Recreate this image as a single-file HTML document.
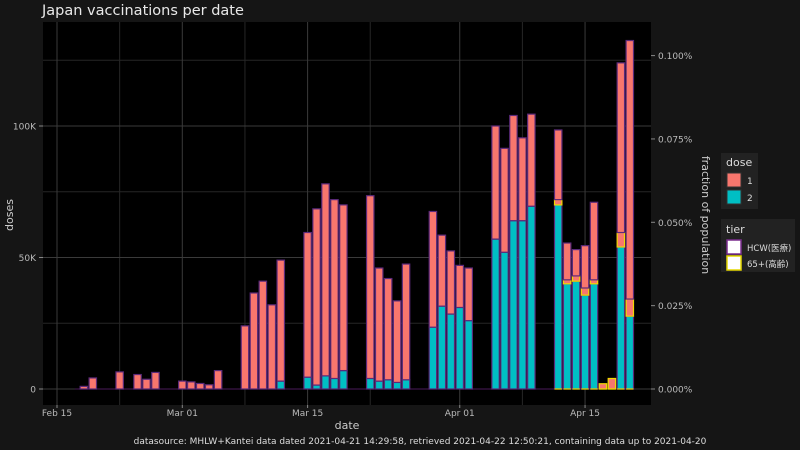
<!DOCTYPE html>
<html><head><meta charset="utf-8"><style>
html,body{margin:0;padding:0;background:#151515;}
svg{display:block;font-family:"DejaVu Sans","Noto Sans CJK JP",sans-serif;}
</style></head><body>
<svg id="chart" width="800" height="450" viewBox="0 0 800 450">
<rect x="0" y="0" width="800" height="450" fill="#151515"/>
<text x="42" y="15" fill="#e8e8e8" font-size="14.5">Japan vaccinations per date</text>
<rect x="43" y="22" width="608" height="383" fill="#000"/>
<g id="grid"></g>
<g id="bars"></g>
<g id="axes"></g>
<text x="347" y="429" fill="#ccc" font-size="11" text-anchor="middle">date</text>
<text transform="translate(13,215) rotate(-90)" fill="#ccc" font-size="11" text-anchor="middle">doses</text>
<text transform="translate(702,215) rotate(90)" fill="#ccc" font-size="11" text-anchor="middle">fraction of population</text>
<g>
<rect x="721" y="153" width="37" height="56" fill="#222"/>
<text x="726" y="166" fill="#ddd" font-size="11">dose</text>
<rect x="727" y="173" width="14" height="14" fill="#F8766D" stroke="#333"/>
<text x="747" y="184" fill="#ddd" font-size="9">1</text>
<rect x="727" y="190" width="14" height="14" fill="#00BFC4" stroke="#333"/>
<text x="747" y="201" fill="#ddd" font-size="9">2</text>
</g>
<g>
<rect x="721" y="219" width="74" height="53" fill="#222"/>
<text x="726" y="233" fill="#ddd" font-size="11">tier</text>
<rect x="727" y="240" width="14" height="14" fill="#fff" stroke="#7b2d8e" stroke-width="1.5"/>
<text x="747" y="251" fill="#ddd" font-size="8.5">HCW(医療)</text>
<rect x="727" y="256" width="14" height="14" fill="#fff" stroke="#e6d800" stroke-width="1.5"/>
<text x="747" y="267" fill="#ddd" font-size="8.5">65+(高齢)</text>
</g>
<text x="420" y="444" fill="#ddd" font-size="9" text-anchor="middle">datasource: MHLW+Kantei data dated 2021-04-21 14:29:58, retrieved 2021-04-22 12:50:21, containing data up to 2021-04-20</text>
</svg>
<script>
// day offsets from Feb 15
const days = [3,4,7,9,10,11,14,15,16,17,18,21,22,23,24,25,28,29,30,31,32,35,36,37,38,39,42,43,44,45,46,49,50,51,52,53,56,57,58,59,60,61,62,63,64];
// HCW dose 2 (K)
const hcwDose2 = [0,0,0,0,0,0,0,0,0,0,0,0,0,0,0,3,4.5,1.5,5,4,7,4,3,3.5,2.5,3.5,23.5,31.5,28.5,31,26,57,52,64,64,69.5,70,40,41,35.7,40,0,0,54,27.7];
// 65+ dose 1 (K)
const oldDose1 = [0,0,0,0,0,0,0,0,0,0,0,0,0,0,0,0,0,0,0,0,0,0,0,0,0,0,0,0,0,0,0,0,0,0,0,0,2,1.5,2,2.7,1.5,2,4,5.5,6.5];
// HCW dose 1 (K)
const hcwDose1 = [1,4.2,6.5,5.5,3.7,6.3,3,2.7,2.1,1.6,7,24,36.5,41,32,46,55,67,73,68,63,69.5,43,38.5,31,44,44,27,24,16,20,43,39.5,40,31.5,35,26.5,14,10,16.1,29.5,0,0,64.5,98.3];
const yTicks = [0,50,100];
const yTickLabels = ["0","50K","100K"];
const pctTicks = [0,0.025,0.05,0.075,0.1];
const pctTickLabels = ["0.000%","0.025%","0.050%","0.075%","0.100%"];
const xTickDays = [0,14,28,45,59];
const xTickLabels = ["Feb 15","Mar 01","Mar 15","Apr 01","Apr 15"];

const ns="http://www.w3.org/2000/svg";
const x = d => 57 + d*8.95;
const y = v => 389 - v*2.63;
const yp = p => 389 - p*3334;
const PB = 405;
function mk(tag, attrs, parent){const e=document.createElementNS(ns,tag);for(const k in attrs)e.setAttribute(k,attrs[k]);parent.appendChild(e);return e;}
const grid=document.getElementById('grid'), bars=document.getElementById('bars'), axes=document.getElementById('axes');
[25,75,125].forEach(v=>{const l=mk('line',{x1:43,x2:651,y1:y(v),y2:y(v),stroke:'#262626','stroke-width':1},grid);

});
[7,21,35,52].forEach(d=>{const l=mk('line',{x1:x(d),x2:x(d),y1:22,y2:PB,stroke:'#262626','stroke-width':1},grid);

});
yTicks.forEach((v,i)=>{const l=mk('line',{x1:43,x2:651,y1:y(v),y2:y(v),stroke:'#3a3a3a','stroke-width':1},grid);


const t=mk('text',{x:36,y:y(v)+3.5,fill:'#bbb','font-size':9,'text-anchor':'end'},axes);t.textContent=yTickLabels[i];


mk('line',{x1:39,x2:43,y1:y(v),y2:y(v),stroke:'#888'},axes);});
xTickDays.forEach((d,i)=>{const l=mk('line',{x1:x(d),x2:x(d),y1:22,y2:PB,stroke:'#3a3a3a','stroke-width':1},grid);


mk('line',{x1:x(d),x2:x(d),y1:PB,y2:PB+3,stroke:'#888'},axes);
const t=mk('text',{x:x(d),y:416,fill:'#bbb','font-size':9,'text-anchor':'middle'},axes);t.textContent=xTickLabels[i];

});
pctTicks.forEach((p,i)=>{mk('line',{x1:651,x2:655,y1:yp(p),y2:yp(p),stroke:'#888'},axes);
const t=mk('text',{x:658,y:yp(p)+3.5,fill:'#bbb','font-size':9},axes);t.textContent=pctTickLabels[i];

});
mk('line',{x1:x(2),x2:x(64.5),y1:389,y2:389,stroke:'#4a1a5a','stroke-width':1},bars);
const bw=7.4;
days.forEach((d,i)=>{
  let base=0;
  const segs=[[hcwDose2[i],'#00BFC4','#5b2a7a','bar-dose2-hcw'],[oldDose1[i],'#F8766D','#f0d800','bar-dose1-65plus'],[hcwDose1[i],'#F8766D','#5b2a7a','bar-dose1-hcw']];
  segs.forEach(s=>{
    if(s[0]<=0) return;
    const r=mk('rect',{x:x(d)-bw/2,y:y(base+s[0]),width:bw,height:s[0]*2.63,fill:s[1],stroke:s[2],'stroke-width':1.2},bars);
    
    
    base+=s[0];
  });
  if(d>=56){mk('line',{x1:x(d)-bw/2,x2:x(d)+bw/2,y1:389,y2:389,stroke:'#f0d800','stroke-width':1.2},bars);}
});
</script>
</body></html>
